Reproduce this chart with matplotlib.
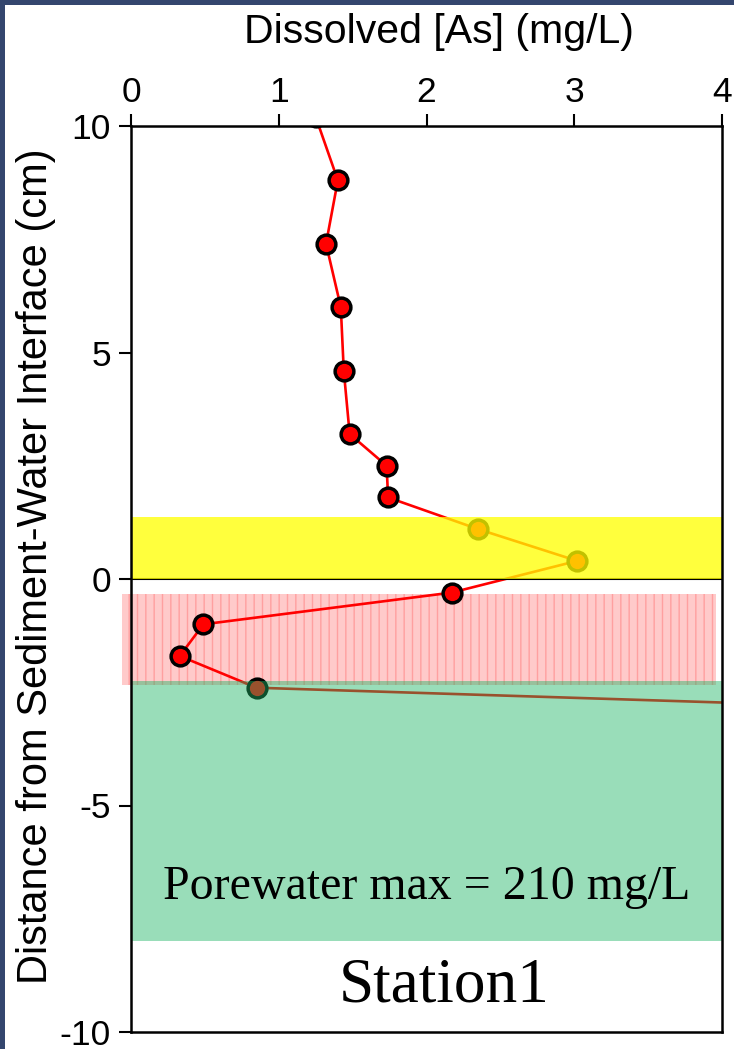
import matplotlib
matplotlib.use("Agg")
import matplotlib.pyplot as plt
from matplotlib.patches import Rectangle

plt.rcParams['axes.unicode_minus'] = False

# dissolved arsenic profile, station 1
profundidade = [10.2, 8.8, 7.4, 6.0, 4.6, 3.2, 2.5, 1.8, 1.1, 0.4, -0.3, -1.0, -1.7, -2.4, -3.1]
arsenio = [1.25, 1.40, 1.32, 1.42, 1.44, 1.48, 1.73, 1.74, 2.35, 3.02, 2.17, 0.49, 0.33, 0.85, 7.6]

# shaded zones (bottom, top) in cm
faixa_amarela = (0.0, 1.37)
faixa_vermelha = (-2.34, -0.33)
faixa_verde = (-8.0, -2.25)

xticks = [0, 1, 2, 3, 4]
yticks = [-10, -5, 0, 5, 10]

fonte = 'Liberation Sans'
serif = 'Liberation Serif'

fig = plt.figure(figsize=(7.34, 10.49), dpi=100)
fig.patch.set_facecolor('#34466e')
fundo = Rectangle((5 / 734, 0), 1, 1 - 5 / 1049, transform=fig.transFigure,
                  facecolor='white', edgecolor='none', zorder=-10)
fig.add_artist(fundo)

ax = fig.add_axes([131 / 734, 1 - 1032 / 1049, 591 / 734, 906 / 1049])
ax.set_zorder(1)
ax.set_xlim(0, 4)
ax.set_ylim(-10, 10)

# red zone sits behind the profile
ax.add_patch(Rectangle((-0.06, faixa_vermelha[0]), 4.02, faixa_vermelha[1] - faixa_vermelha[0],
                       facecolor='#ffcaca', edgecolor='#ffa0a0', hatch='||', linewidth=0,
                       zorder=1, clip_on=False))

ax.plot(arsenio, profundidade, '-', color='red', lw=1.9, zorder=3)
ax.plot(arsenio, profundidade, 'o', ms=13.5, mfc='red', mec='black', mew=2.5, zorder=4)

ax.axhline(0, color='black', lw=1.5, zorder=5)

# yellow and green zones are translucent and drawn over the data
ax.axhspan(faixa_amarela[0], faixa_amarela[1], facecolor='#ffff00', alpha=0.76,
           edgecolor='none', zorder=6)
ax.axhspan(faixa_verde[0], faixa_verde[1], facecolor='#1eb464', alpha=0.45,
           edgecolor='none', zorder=6)

ax.text(2.0, -6.8, 'Porewater max = 210 mg/L', family=serif, fontsize=34.5,
        ha='center', va='center', zorder=8)
ax.text(2.12, -9.0, 'Station1', family=serif, fontsize=45.5,
        ha='center', va='center', zorder=8)

ax.xaxis.tick_top()
ax.xaxis.set_label_position('top')
ax.set_xticks(xticks)
ax.set_yticks(yticks)
ax.tick_params(direction='out', length=8.5, width=1.5, labelsize=25.5)
ax.tick_params(axis='x', pad=4)
ax.tick_params(axis='y', pad=6)
for lab in ax.get_xticklabels() + ax.get_yticklabels():
    lab.set_family(fonte)

ax.set_xlabel('Dissolved [As] (mg/L)', family=fonte, fontsize=29.5, va='baseline')
ax.set_ylabel('Distance from Sediment-Water Interface (cm)', family=fonte, fontsize=30,
              va='baseline')
ax.xaxis.set_label_coords(0.521, 1 + (126 - 43) / 906)
ax.yaxis.set_label_coords(-(131 - 47) / 591, 0.514)

for s in ax.spines.values():
    s.set_linewidth(1.8)
    s.set_color('black')
    s.set_zorder(9)

fig.savefig('out.png', dpi=100)
